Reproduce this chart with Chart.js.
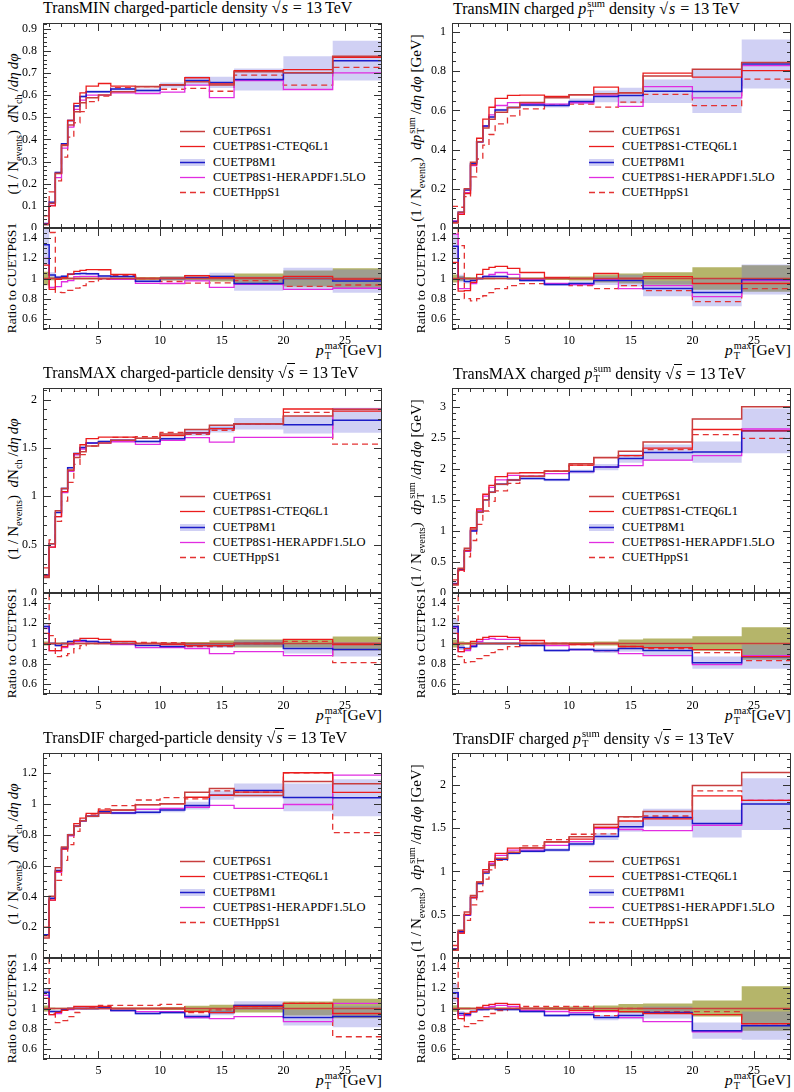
<!DOCTYPE html>
<html>
<head>
<meta charset="utf-8">
<title>Underlying event at 13 TeV – tune comparison</title>
<script src="https://cdn.jsdelivr.net/npm/chart.js@4.4.1/dist/chart.umd.min.js"></script>
<style>
  body { margin: 0; background: #fff; }
  #page { position: relative; width: 794px; height: 1092px; overflow: hidden; font-family: "Liberation Serif", "DejaVu Serif", serif; color: #000; }
  #page canvas { position: absolute; }
  .title { position: absolute; font-size: 16px; line-height: 18px; white-space: nowrap; }
  .ytitle { position: absolute; white-space: nowrap; transform: translate(-50%, -50%) rotate(-90deg); font-size: 15px; line-height: 16px; }
  .rtitle { position: absolute; white-space: nowrap; transform: translate(-50%, -50%) rotate(-90deg); font-size: 13.5px; line-height: 16px; }
  .xtitle { position: absolute; font-size: 15.5px; line-height: 18px; white-space: nowrap; }
  .lrow { position: absolute; height: 15px; white-space: nowrap; font-size: 12.5px; line-height: 15px; }
  .lrow svg { position: absolute; left: 0; top: 3px; }
  .lrow span { position: absolute; left: 33px; top: 0; }
  sub { font-size: 0.68em; line-height: 0; }
  .ss { display: inline-block; vertical-align: -0.32em; font-size: 0.66em; line-height: 0.95; margin-left: 1px; }
  .ss span { display: block; }
  .rt { border-top: 1px solid #000; padding: 0 1px; }
</style>
</head>
<body>
<div id="page"></div>
<script>
// bins in pT max [GeV]
const binEdges = [0.5, 1, 1.5, 2, 2.5, 3, 3.5, 4, 5, 6, 8, 10, 12, 14, 16, 20, 24, 28];
const xTickLabels = [5, 10, 15, 20, 25];
const ratioTicks = [0.6, 0.8, 1, 1.2, 1.4];
const tuneNames = ["CUETP6S1", "CUETP8S1-CTEQ6L1", "CUETP8M1", "CUETP8S1-HERAPDF1.5LO", "CUETHppS1"];

// TransMIN charged-particle density
const minNchP6   = [0.015, 0.112, 0.247, 0.372, 0.465, 0.525, 0.565, 0.588, 0.600, 0.615, 0.638, 0.645, 0.660, 0.645, 0.705, 0.700, 0.775];
const minNchCteq = [0.017, 0.100, 0.245, 0.375, 0.485, 0.562, 0.610, 0.640, 0.652, 0.640, 0.638, 0.647, 0.678, 0.650, 0.710, 0.715, 0.770];
const minNchM1   = [0.020, 0.116, 0.250, 0.380, 0.485, 0.550, 0.593, 0.615, 0.615, 0.627, 0.620, 0.645, 0.665, 0.657, 0.670, 0.700, 0.755];
const minNchHera = [0.018, 0.102, 0.227, 0.360, 0.455, 0.535, 0.577, 0.600, 0.600, 0.610, 0.607, 0.613, 0.645, 0.588, 0.665, 0.625, 0.700];
const minNchHpp  = [0.055, 0.163, 0.213, 0.320, 0.410, 0.475, 0.525, 0.570, 0.595, 0.633, 0.638, 0.626, 0.630, 0.617, 0.690, 0.645, 0.725];
const minNchM1Err = [0.003, 0.003, 0.004, 0.004, 0.005, 0.005, 0.005, 0.006, 0.006, 0.007, 0.009, 0.012, 0.020, 0.025, 0.050, 0.075, 0.090];
const minNchP6Err = [0.001, 0.002, 0.003, 0.004, 0.005, 0.005, 0.006, 0.006, 0.006, 0.006, 0.010, 0.013, 0.013, 0.019, 0.035, 0.056, 0.078];
const minNchTicks = [0, 0.1, 0.2, 0.3, 0.4, 0.5, 0.6, 0.7, 0.8, 0.9];

// TransMIN charged pTsum density
const minPtP6   = [0.025, 0.080, 0.200, 0.335, 0.440, 0.510, 0.555, 0.590, 0.615, 0.640, 0.665, 0.680, 0.685, 0.690, 0.775, 0.810, 0.845];
const minPtCteq = [0.029, 0.070, 0.176, 0.322, 0.458, 0.556, 0.616, 0.661, 0.677, 0.678, 0.672, 0.680, 0.719, 0.690, 0.790, 0.770, 0.803];
const minPtM1   = [0.033, 0.080, 0.194, 0.328, 0.440, 0.520, 0.566, 0.602, 0.615, 0.627, 0.625, 0.646, 0.671, 0.676, 0.698, 0.697, 0.837];
const minPtHera = [0.036, 0.072, 0.180, 0.318, 0.440, 0.520, 0.577, 0.625, 0.640, 0.634, 0.632, 0.639, 0.678, 0.621, 0.721, 0.664, 0.828];
const minPtHpp  = [0.110, 0.106, 0.160, 0.261, 0.352, 0.423, 0.477, 0.531, 0.572, 0.608, 0.628, 0.632, 0.617, 0.642, 0.682, 0.624, 0.760];
const minPtM1Err = [0.003, 0.003, 0.004, 0.005, 0.005, 0.005, 0.005, 0.006, 0.006, 0.007, 0.010, 0.015, 0.030, 0.040, 0.060, 0.110, 0.125];
const minPtP6Err = [0.001, 0.002, 0.003, 0.004, 0.004, 0.005, 0.005, 0.005, 0.005, 0.006, 0.010, 0.014, 0.027, 0.035, 0.047, 0.090, 0.110];
const minPtTicks = [0, 0.2, 0.4, 0.6, 0.8, 1];

// TransMAX charged-particle density
const maxNchP6   = [0.160, 0.510, 0.850, 1.080, 1.270, 1.400, 1.460, 1.520, 1.550, 1.580, 1.600, 1.645, 1.690, 1.735, 1.750, 1.830, 1.900];
const maxNchCteq = [0.176, 0.474, 0.790, 1.048, 1.270, 1.442, 1.533, 1.596, 1.612, 1.612, 1.600, 1.629, 1.656, 1.700, 1.750, 1.903, 1.881];
const maxNchM1   = [0.187, 0.510, 0.833, 1.080, 1.295, 1.442, 1.504, 1.550, 1.566, 1.580, 1.568, 1.596, 1.656, 1.700, 1.750, 1.739, 1.786];
const maxNchHera = [0.184, 0.474, 0.790, 1.037, 1.257, 1.428, 1.489, 1.550, 1.550, 1.564, 1.536, 1.579, 1.606, 1.560, 1.610, 1.610, 1.900];
const maxNchHpp  = [0.260, 0.550, 0.740, 0.950, 1.143, 1.330, 1.430, 1.520, 1.566, 1.610, 1.616, 1.660, 1.640, 1.683, 1.750, 1.867, 1.539];
const maxNchM1Err = [0.005, 0.006, 0.008, 0.010, 0.010, 0.010, 0.010, 0.010, 0.010, 0.011, 0.012, 0.015, 0.030, 0.040, 0.060, 0.090, 0.130];
const maxNchP6Err = [0.003, 0.005, 0.008, 0.010, 0.010, 0.010, 0.010, 0.010, 0.010, 0.010, 0.012, 0.016, 0.025, 0.050, 0.070, 0.073, 0.130];
const maxNchTicks = [0, 0.5, 1, 1.5, 2];

// TransMAX charged pTsum density
const maxPtP6   = [0.130, 0.400, 0.720, 1.030, 1.300, 1.500, 1.620, 1.750, 1.820, 1.880, 1.960, 2.080, 2.180, 2.280, 2.430, 2.800, 3.000];
const maxPtCteq = [0.143, 0.368, 0.684, 1.051, 1.352, 1.590, 1.733, 1.873, 1.929, 1.936, 1.960, 2.059, 2.180, 2.212, 2.333, 2.632, 2.610];
const maxPtM1   = [0.152, 0.384, 0.684, 0.999, 1.300, 1.500, 1.620, 1.750, 1.820, 1.842, 1.823, 1.955, 2.027, 2.166, 2.260, 2.268, 2.610];
const maxPtHera = [0.150, 0.368, 0.670, 1.009, 1.326, 1.560, 1.700, 1.820, 1.893, 1.880, 1.921, 1.955, 2.027, 2.052, 2.138, 2.212, 2.640];
const maxPtHpp  = [0.210, 0.348, 0.583, 0.845, 1.105, 1.320, 1.474, 1.645, 1.765, 1.880, 1.960, 2.059, 2.027, 2.212, 2.309, 2.548, 2.490];
const maxPtM1Err = [0.010, 0.010, 0.010, 0.015, 0.015, 0.015, 0.015, 0.020, 0.020, 0.020, 0.025, 0.030, 0.050, 0.070, 0.130, 0.170, 0.360];
const maxPtP6Err = [0.005, 0.008, 0.010, 0.012, 0.013, 0.015, 0.016, 0.018, 0.018, 0.019, 0.020, 0.030, 0.045, 0.090, 0.120, 0.200, 0.480];
const maxPtTicks = [0, 0.5, 1, 1.5, 2, 2.5, 3];

// TransDIF charged-particle density
const difNchP6   = [0.130, 0.400, 0.585, 0.720, 0.800, 0.855, 0.890, 0.920, 0.940, 0.960, 0.995, 1.000, 1.075, 1.100, 1.055, 1.145, 1.130];
const difNchCteq = [0.143, 0.376, 0.562, 0.706, 0.800, 0.872, 0.908, 0.938, 0.959, 0.960, 0.995, 1.000, 1.043, 1.056, 1.076, 1.202, 1.074];
const difNchM1   = [0.151, 0.388, 0.567, 0.713, 0.800, 0.855, 0.890, 0.920, 0.949, 0.941, 0.945, 0.960, 0.989, 1.056, 1.087, 1.042, 1.040];
const difNchHera = [0.147, 0.376, 0.556, 0.706, 0.792, 0.855, 0.890, 0.920, 0.940, 0.941, 0.965, 0.970, 0.978, 0.990, 0.971, 0.996, 1.187];
const difNchHpp  = [0.200, 0.380, 0.503, 0.634, 0.736, 0.821, 0.890, 0.929, 0.968, 0.989, 1.025, 1.040, 1.032, 1.084, 1.076, 1.202, 0.814];
const difNchM1Err = [0.005, 0.005, 0.006, 0.007, 0.008, 0.008, 0.008, 0.008, 0.009, 0.010, 0.012, 0.015, 0.025, 0.030, 0.045, 0.090, 0.120];
const difNchP6Err = [0.004, 0.004, 0.005, 0.006, 0.006, 0.007, 0.007, 0.008, 0.008, 0.009, 0.010, 0.015, 0.030, 0.040, 0.042, 0.080, 0.110];
const difNchTicks = [0, 0.2, 0.4, 0.6, 0.8, 1, 1.2];

// TransDIF charged pTsum density
const difPtP6   = [0.090, 0.320, 0.530, 0.720, 0.870, 0.990, 1.070, 1.150, 1.220, 1.270, 1.340, 1.400, 1.540, 1.630, 1.690, 1.990, 2.140];
const difPtCteq = [0.099, 0.288, 0.504, 0.698, 0.879, 1.020, 1.113, 1.208, 1.269, 1.270, 1.340, 1.372, 1.509, 1.581, 1.606, 1.871, 1.819];
const difPtM1   = [0.104, 0.304, 0.498, 0.698, 0.861, 0.980, 1.070, 1.139, 1.208, 1.232, 1.246, 1.316, 1.401, 1.516, 1.622, 1.552, 1.776];
const difPtHera = [0.104, 0.298, 0.493, 0.698, 0.861, 1.000, 1.091, 1.185, 1.244, 1.245, 1.300, 1.344, 1.494, 1.483, 1.470, 1.532, 1.819];
const difPtHpp  = [0.144, 0.288, 0.435, 0.612, 0.766, 0.911, 1.017, 1.127, 1.220, 1.295, 1.367, 1.428, 1.432, 1.630, 1.639, 1.930, 1.819];
const difPtM1Err = [0.008, 0.008, 0.010, 0.010, 0.012, 0.012, 0.013, 0.014, 0.015, 0.016, 0.020, 0.025, 0.040, 0.060, 0.100, 0.160, 0.300];
const difPtP6Err = [0.003, 0.004, 0.006, 0.008, 0.009, 0.010, 0.011, 0.012, 0.012, 0.013, 0.020, 0.028, 0.046, 0.073, 0.085, 0.160, 0.470];
const difPtTicks = [0, 0.5, 1, 1.5, 2];

const panels = [
  { row: 0, col: 0, region: "TransMIN", nch: true, series: [minNchP6, minNchCteq, minNchM1, minNchHera, minNchHpp], m1Err: minNchM1Err, p6Err: minNchP6Err, yMax: 0.925, yTicks: minNchTicks, yMinor: 0.02 },
  { row: 0, col: 1, region: "TransMIN", nch: false, series: [minPtP6, minPtCteq, minPtM1, minPtHera, minPtHpp], m1Err: minPtM1Err, p6Err: minPtP6Err, yMax: 1.046, yTicks: minPtTicks, yMinor: 0.05 },
  { row: 1, col: 0, region: "TransMAX", nch: true, series: [maxNchP6, maxNchCteq, maxNchM1, maxNchHera, maxNchHpp], m1Err: maxNchM1Err, p6Err: maxNchP6Err, yMax: 2.12, yTicks: maxNchTicks, yMinor: 0.1 },
  { row: 1, col: 1, region: "TransMAX", nch: false, series: [maxPtP6, maxPtCteq, maxPtM1, maxPtHera, maxPtHpp], m1Err: maxPtM1Err, p6Err: maxPtP6Err, yMax: 3.3, yTicks: maxPtTicks, yMinor: 0.1 },
  { row: 2, col: 0, region: "TransDIF", nch: true, series: [difNchP6, difNchCteq, difNchM1, difNchHera, difNchHpp], m1Err: difNchM1Err, p6Err: difNchP6Err, yMax: 1.33, yTicks: difNchTicks, yMinor: 0.05 },
  { row: 2, col: 1, region: "TransDIF", nch: false, series: [difPtP6, difPtCteq, difPtM1, difPtHera, difPtHpp], m1Err: difPtM1Err, p6Err: difPtP6Err, yMax: 2.366, yTicks: difPtTicks, yMinor: 0.1 },
];

const tuneStyles = [
  { color: "rgb(200,62,62)", width: 1.5 },
  { color: "rgb(235,28,28)", width: 1.3 },
  { color: "rgb(28,28,200)", width: 1.5 },
  { color: "rgb(225,45,225)", width: 1.3 },
  { color: "rgb(228,50,50)", width: 1.3, dash: [6, 4] },
];
const lavender = "rgba(110,110,220,0.32)";
const olive = "rgba(135,135,15,0.62)";
const font = "'Liberation Serif', 'DejaVu Serif', serif";

// layout of the page
const colLeft = [43, 452];
const plotW = 339, mainH = 205, ratioH = 101, rowStep = 365, firstTop = 23, yAxisW = 40;

const page = document.getElementById("page");

function addDiv(cls, html, css) {
  const d = document.createElement("div");
  d.className = cls;
  d.innerHTML = html;
  Object.assign(d.style, css);
  page.appendChild(d);
  return d;
}

function addCanvas(left, top, w, h) {
  const c = document.createElement("canvas");
  c.width = w; c.height = h;
  Object.assign(c.style, { left: left + "px", top: top + "px", width: w + "px", height: h + "px" });
  page.appendChild(c);
  return c;
}

// histogram: one point per lower bin edge, plus the last upper edge
function stepPoints(vals) {
  const pts = vals.map((v, i) => ({ x: binEdges[i], y: v }));
  pts.push({ x: binEdges[vals.length], y: vals[vals.length - 1] });
  return pts;
}

const lineSet = (vals, st) => ({
  data: stepPoints(vals), stepped: true, borderColor: st.color, borderWidth: st.width,
  borderDash: st.dash || [], pointRadius: 0, fill: false,
});

const bandSets = (lo, hi, color) => [
  { data: stepPoints(lo), stepped: true, borderWidth: 0, borderColor: "rgba(0,0,0,0)", pointRadius: 0, fill: false },
  { data: stepPoints(hi), stepped: true, borderWidth: 0, borderColor: "rgba(0,0,0,0)", pointRadius: 0, fill: "-1", backgroundColor: color },
];

// inward ticks on all four sides plus the frame
const frameTicks = {
  id: "frameTicks",
  afterDatasetsDraw(chart, args, opts) {
    const { ctx, chartArea: a } = chart;
    const xs = chart.scales.x, ys = chart.scales.y;
    ctx.save();
    ctx.strokeStyle = "#333";
    ctx.lineWidth = 1;
    ctx.setLineDash([]);
    ctx.beginPath();
    for (let v = 1; v < 28; v += 1) {
      const px = Math.round(xs.getPixelForValue(v)) + 0.5;
      const len = v % 5 === 0 ? 8 : 4;
      ctx.moveTo(px, a.bottom); ctx.lineTo(px, a.bottom - len);
      ctx.moveTo(px, a.top); ctx.lineTo(px, a.top + len);
    }
    const n0 = Math.ceil(ys.min / opts.yMinor - 1e-6), n1 = Math.floor(ys.max / opts.yMinor + 1e-6);
    for (let k = n0; k <= n1; k++) {
      const v = k * opts.yMinor;
      const major = opts.yMajor.some(t => Math.abs(t - v) < 1e-6);
      const py = Math.round(ys.getPixelForValue(v)) + 0.5;
      const len = major ? 8 : 4;
      ctx.moveTo(a.left, py); ctx.lineTo(a.left + len, py);
      ctx.moveTo(a.right, py); ctx.lineTo(a.right - len, py);
    }
    ctx.stroke();
    ctx.strokeRect(Math.round(a.left) + 0.5, Math.round(a.top) + 0.5, Math.round(a.right - a.left) - 1, Math.round(a.bottom - a.top) - 1);
    ctx.restore();
  },
};

const fmt = v => String(+(+v).toFixed(2));

function yScale(min, max, ticks) {
  return {
    min, max,
    grid: { display: false, drawTicks: false },
    border: { display: false },
    ticks: { font: { family: font, size: 12 }, color: "#000", padding: 6, callback: fmt },
    afterBuildTicks: s => { s.ticks = ticks.map(v => ({ value: v })); },
    afterFit: s => { s.width = yAxisW; s.paddingTop = 0; s.paddingBottom = 0; },
  };
}

const pTsum = '<i>p</i><span class="ss"><span>sum</span><span>T</span></span>';
const pTmax = '<i>p</i><span class="ss"><span>max</span><span>T</span></span>';
const sqrtS = '<span>&radic;<i class="rt">s</i></span> = 13&#8201;TeV';

panels.forEach(p => {
  const plotLeft = colLeft[p.col];
  const mainTop = firstTop + p.row * rowStep;
  const ratioTop = mainTop + mainH;
  const ratioBottom = ratioTop + ratioH;
  const [ref, cteq, m1, hera, hpp] = p.series;

  // titles
  const what = p.nch ? "charged-particle density" : "charged " + pTsum + " density";
  addDiv("title", p.region + " " + what + " " + sqrtS, { left: (plotLeft + (p.col ? 1 : 0)) + "px", top: (p.row * rowStep - 1) + "px" });

  const yt = p.nch
    ? '(1&#8201;/&#8201;N<sub>events</sub>)&nbsp; <i>d</i>N<sub>ch</sub>&#8201;/<i>d&eta;&#8201;d&phi;</i>'
    : '(1&#8201;/&#8201;N<sub>events</sub>)&nbsp; <i>d</i>' + pTsum + '&#8201;/<i>d&eta;&#8201;d&phi;</i> [GeV]';
  addDiv("ytitle", yt, { left: (plotLeft - (p.col ? 36 : 30)) + "px", top: (mainTop + mainH / 2 + (p.col ? 2 : -2)) + "px" });
  addDiv("rtitle", "Ratio to CUETP6S1", { left: (plotLeft - 31) + "px", top: (ratioTop + ratioH / 2 - 1) + "px" });
  addDiv("xtitle", pTmax + "[GeV]", { right: (794 - plotLeft - plotW) + "px", top: (ratioBottom + 12) + "px" });

  // legend
  tuneNames.forEach((name, i) => {
    const st = tuneStyles[i];
    const band = i === 2 ? '<rect x="0" y="1" width="25" height="7" fill="' + lavender + '"/>' : "";
    const dash = st.dash ? ' stroke-dasharray="' + st.dash.join(",") + '"' : "";
    const svg = '<svg width="25" height="9">' + band + '<line x1="0" y1="4.5" x2="25" y2="4.5" stroke="' + st.color + '" stroke-width="' + st.width + '"' + dash + "/></svg>";
    const row = addDiv("lrow", svg + "<span>" + name + "</span>", {});
    row.style.left = (plotLeft + 137) + "px";
    row.style.top = (mainTop + 101 + i * 15.3) + "px";
  });

  // main panel
  const mainCanvas = addCanvas(plotLeft - yAxisW, mainTop - 6, yAxisW + plotW + 3, mainH + 8);
  new Chart(mainCanvas, {
    type: "line",
    data: {
      datasets: [
        ...p.series.map((s, i) => lineSet(s, tuneStyles[i])),
        ...bandSets(m1.map((v, i) => v - p.m1Err[i]), m1.map((v, i) => v + p.m1Err[i]), lavender),
      ],
    },
    options: {
      responsive: false, animation: false, events: [],
      layout: { padding: { top: 6, bottom: 2, right: 3, left: 0 } },
      plugins: { legend: { display: false }, tooltip: { enabled: false }, frameTicks: { yMinor: p.yMinor, yMajor: p.yTicks } },
      scales: {
        x: { type: "linear", min: 0.5, max: 28, display: false },
        y: yScale(0, p.yMax, p.yTicks),
      },
    },
    plugins: [frameTicks],
  });

  // ratio panel
  const ratio = s => s.map((v, i) => v / ref[i]);
  const ratioCanvas = addCanvas(plotLeft - yAxisW, ratioTop - 6, yAxisW + plotW + 3, ratioH + 6 + 22);
  new Chart(ratioCanvas, {
    type: "line",
    data: {
      datasets: [
        ...p.series.map((s, i) => lineSet(ratio(s), tuneStyles[i])),
        ...bandSets(m1.map((v, i) => (v - p.m1Err[i]) / ref[i]), m1.map((v, i) => (v + p.m1Err[i]) / ref[i]), lavender),
        ...bandSets(ref.map((v, i) => 1 - p.p6Err[i] / v), ref.map((v, i) => 1 + p.p6Err[i] / v), olive),
      ],
    },
    options: {
      responsive: false, animation: false, events: [],
      layout: { padding: { top: 6, bottom: 0, right: 3, left: 0 } },
      plugins: { legend: { display: false }, tooltip: { enabled: false }, frameTicks: { yMinor: 0.05, yMajor: ratioTicks } },
      scales: {
        x: {
          type: "linear", min: 0.5, max: 28,
          grid: { display: false, drawTicks: false },
          border: { display: false },
          ticks: { font: { family: font, size: 12 }, color: "#000", padding: 5, autoSkip: false, maxRotation: 0 },
          afterBuildTicks: s => { s.ticks = xTickLabels.map(v => ({ value: v })); },
          afterFit: s => { s.height = 22; s.paddingLeft = 0; s.paddingRight = 0; },
        },
        y: yScale(0.5, 1.5, ratioTicks),
      },
    },
    plugins: [frameTicks],
  });
});
</script>
</body>
</html>
